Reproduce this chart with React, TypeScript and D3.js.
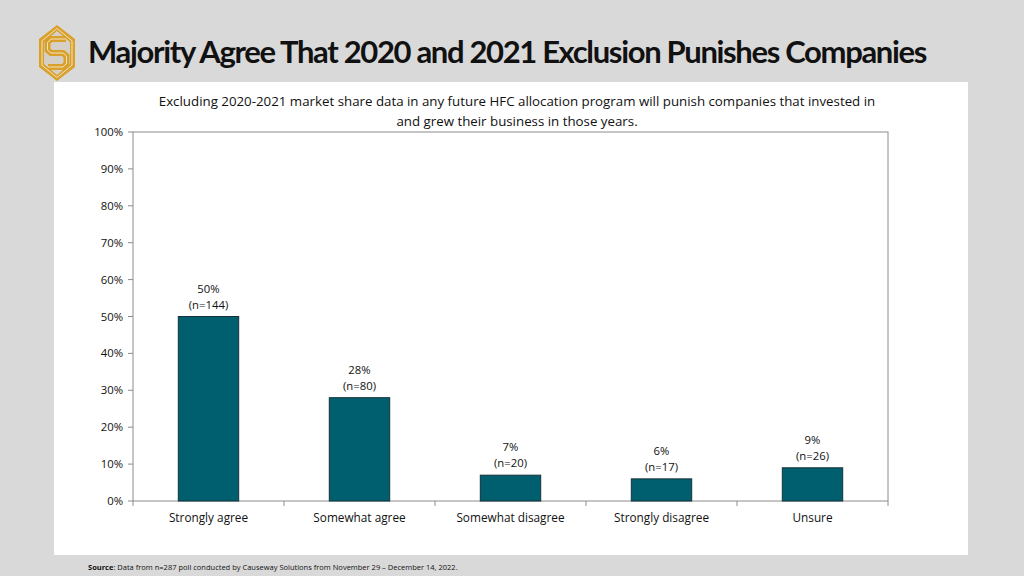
import React from "react";
import * as d3 from "d3";

const categories = ["Strongly agree", "Somewhat agree", "Somewhat disagree", "Strongly disagree", "Unsure"];
const percents = [50, 28, 7, 6, 9];
const counts = [144, 80, 20, 17, 26];
const yTicks = [0, 10, 20, 30, 40, 50, 60, 70, 80, 90, 100];

const titleText = "Majority Agree That 2020 and 2021 Exclusion Punishes Companies";
const subtitleLines = [
  "Excluding 2020-2021 market share data in any future HFC allocation program will punish companies that invested in",
  "and grew their business in those years.",
];

export default function App() {
  const W = 1024, H = 576;
  const left = 133, right = 888, top = 132, bottom = 501;
  const x = d3.scaleBand<string>().domain(categories).range([left, right]).paddingInner(0.6).paddingOuter(0.3);
  const xb = d3.scaleBand<string>().domain(categories).range([left, right]);
  const y = d3.scaleLinear().domain([0, 100]).range([bottom, top]);
  const font = "'Open Sans', 'Noto Sans', sans-serif";

  // hexagon logo
  const cx = 57, cy = 53;
  const hex = (r: number, w: number) =>
    [[cx, cy - r], [cx + w, cy - r / 2], [cx + w, cy + r / 2], [cx, cy + r], [cx - w, cy + r / 2], [cx - w, cy - r / 2]]
      .map((p) => p.join(",")).join(" ");
  const sPath = "M 66 39 L 51 39 L 47.5 42.5 L 47.5 50 L 51 53 L 63 53 L 66.5 56 L 66.5 63.5 L 63 67 L 48 67";

  return (
    <svg width={W} height={H} style={{ position: "absolute", left: 0, top: 0 }} xmlns="http://www.w3.org/2000/svg">
      <rect x={0} y={0} width={W} height={H} fill="#d9d9d9" />
      <rect x={54} y={82} width={914} height={473} fill="#ffffff" />
      {/* logo */}
      <polygon points={hex(28, 18)} fill="#d9a12b" />
      <polygon points={hex(24.5, 15)} fill="none" stroke="#f2e3bf" strokeWidth={1} />
      <polygon points={hex(22, 13)} fill="#d4d0c8" />
      <path d={sPath} fill="none" stroke="#d9a12b" strokeWidth={6} strokeLinejoin="miter" />
      <path d={sPath} fill="none" stroke="#f2e3bf" strokeWidth={1} />
      {/* title */}
      <text x={88} y={63} fontFamily="Lato, 'Open Sans', sans-serif" fontWeight="bold" fontSize={30} letterSpacing={-1.3} fill="#111" textLength={838} lengthAdjust="spacingAndGlyphs">{titleText}</text>
      {/* subtitle */}
      {subtitleLines.map((t, i) => (
        <text key={i} x={517} y={106 + i * 20} textAnchor="middle" fontFamily={font} fontSize={13.3} fill="#111">{t}</text>
      ))}
      {/* plot frame */}
      <rect x={left} y={top} width={right - left} height={bottom - top} fill="none" stroke="#8c8c8c" strokeWidth={1} />
      {/* y ticks */}
      {yTicks.map((t) => (
        <g key={t}>
          <line x1={left - 5} x2={left} y1={y(t)} y2={y(t)} stroke="#8c8c8c" />
          <text x={left - 10} y={y(t) + 4} textAnchor="end" fontFamily={font} fontSize={11.3} fill="#111">{t}%</text>
        </g>
      ))}
      {/* x ticks between categories */}
      {categories.map((c) => (
        <line key={c} x1={xb(c)!} x2={xb(c)!} y1={bottom} y2={bottom + 5} stroke="#8c8c8c" />
      ))}
      <line x1={right} x2={right} y1={bottom} y2={bottom + 5} stroke="#8c8c8c" />
      {/* bars */}
      {categories.map((c, i) => (
        <g key={c}>
          <rect x={x(c)} y={y(percents[i])} width={x.bandwidth()} height={bottom - y(percents[i])} fill="#005f6e" stroke="#15323a" strokeWidth={1} />
          <text x={x(c)! + x.bandwidth() / 2} y={y(percents[i]) - 24} textAnchor="middle" fontFamily={font} fontSize={11.3} fill="#111">{percents[i]}%</text>
          <text x={x(c)! + x.bandwidth() / 2} y={y(percents[i]) - 8} textAnchor="middle" fontFamily={font} fontSize={11.3} fill="#111">(n={counts[i]})</text>
          <text x={x(c)! + x.bandwidth() / 2} y={522} textAnchor="middle" fontFamily={font} fontSize={11.8} fill="#111">{c}</text>
        </g>
      ))}
      {/* footer */}
      <text x={88} y={570} fontFamily={font} fontSize={7.5} fill="#111">
        <tspan fontWeight="bold">Source</tspan>: Data from n=287 poll conducted by Causeway Solutions from November 29 – December 14, 2022.
      </text>
    </svg>
  );
}
